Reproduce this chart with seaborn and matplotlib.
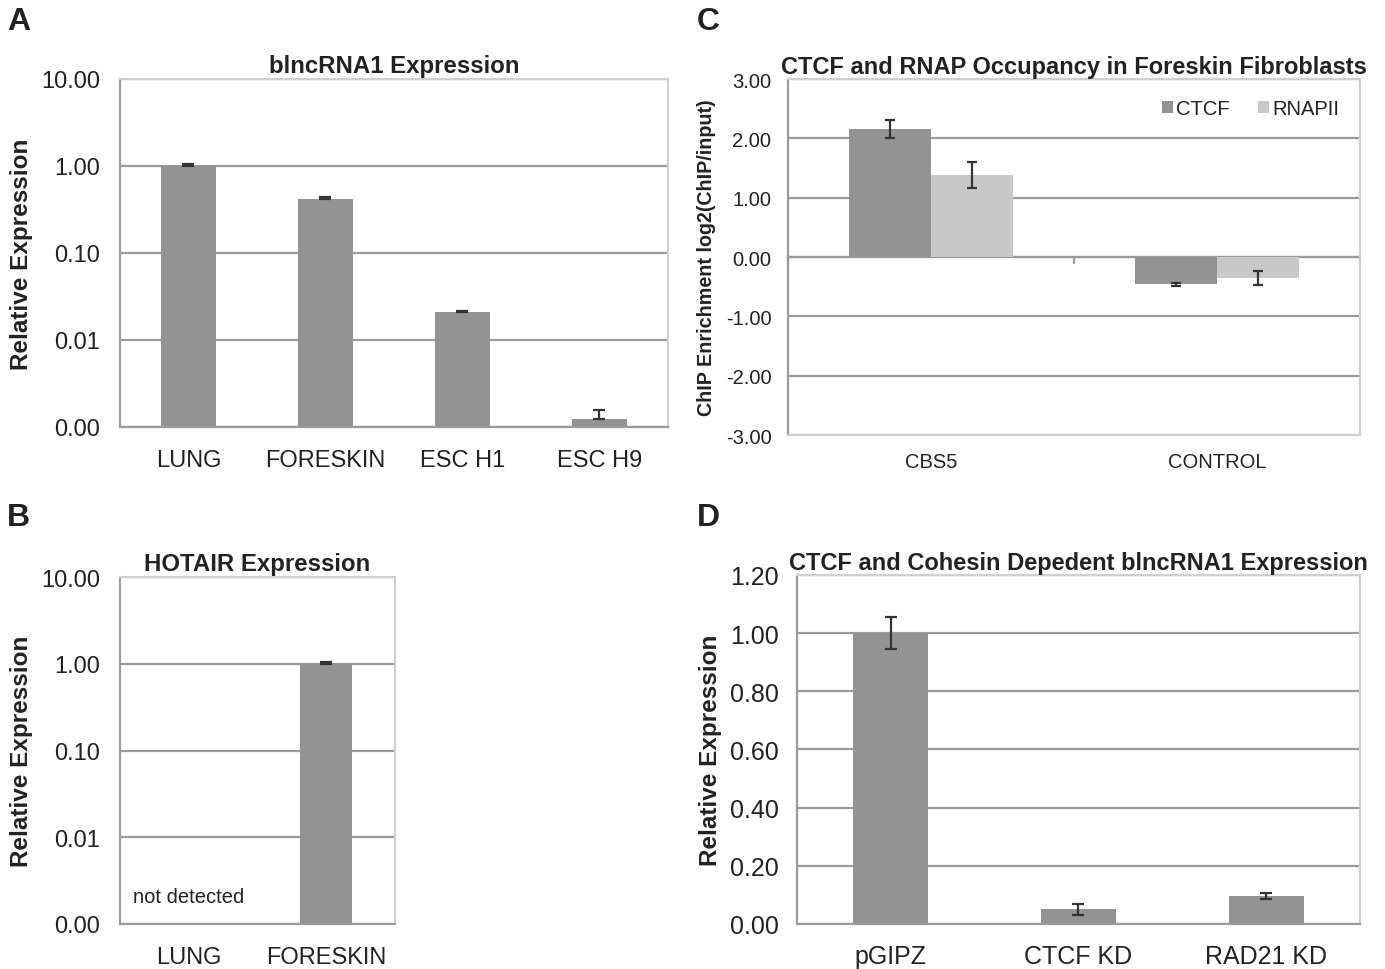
import numpy as np
import pandas as pd
import matplotlib
matplotlib.use('Agg')
import matplotlib.pyplot as plt
import seaborn as sns
from matplotlib.ticker import FixedLocator, FixedFormatter

# ---- data ----
a_tissues = ['LUNG', 'FORESKIN', 'ESC H1', 'ESC H9']
a_expr = [1.0, 0.42, 0.021, 0.00125]
a_err = [0.04, 0.015, 0.0008, 0.0003]

b_tissues = ['LUNG', 'FORESKIN']
b_expr = [np.nan, 1.0]
b_err = [np.nan, 0.04]

c_sites = ['CBS5', 'CONTROL']
c_antibodies = ['CTCF', 'RNAPII']
c_ctcf = [2.16, -0.46]
c_ctcf_err = [0.15, 0.03]
c_rnap = [1.38, -0.36]
c_rnap_err = [0.22, 0.12]

d_conds = ['pGIPZ', 'CTCF KD', 'RAD21 KD']
d_expr = [1.0, 0.05, 0.095]
d_err = [0.055, 0.018, 0.01]

log_ticks = [0.001, 0.01, 0.1, 1, 10]
log_labels = ['0.00', '0.01', '0.10', '1.00', '10.00']
c_ticks = [-3, -2, -1, 0, 1, 2, 3]
d_ticks = [0, 0.2, 0.4, 0.6, 0.8, 1.0, 1.2]

BAR = '#939393'
BAR_LIGHT = '#c8c8c8'
GRID = '#9b9b9b'
FRAME = '#cfcfcf'
ERR = '#333333'
FONT = ['Liberation Sans', 'DejaVu Sans']

sns.set_style('white')
plt.rcParams['font.family'] = FONT
plt.rcParams['text.color'] = '#222222'
plt.rcParams['axes.labelcolor'] = '#222222'
plt.rcParams['xtick.color'] = '#222222'
plt.rcParams['ytick.color'] = '#222222'


def excel_axes(ax, n, tick_size, ypad, xpad):
    ax.set_facecolor('white')
    for s in ['top', 'right']:
        ax.spines[s].set_color(FRAME)
        ax.spines[s].set_linewidth(1.5)
    for s in ['left', 'bottom']:
        ax.spines[s].set_color(GRID)
        ax.spines[s].set_linewidth(1.6)
    ax.yaxis.grid(True, color=GRID, linewidth=1.6)
    ax.xaxis.grid(False)
    ax.set_axisbelow(True)
    ax.set_xlim(-0.5, n - 0.5)
    ax.set_xticks(np.arange(-0.5, n, 1.0), minor=True)
    ax.tick_params(axis='x', which='major', length=0, pad=xpad)
    ax.tick_params(axis='x', which='minor', length=5, width=1.6, color=GRID, direction='out')
    ax.tick_params(axis='y', which='major', length=5, width=1.6, color=GRID, direction='out', pad=ypad)
    ax.tick_params(axis='y', which='minor', length=0)
    for lab in ax.get_xticklabels() + ax.get_yticklabels():
        lab.set_fontsize(tick_size)
    ax.set_xlabel('')


def add_errors(ax, centers, values, errors, cap, upper_only=False):
    yerr = [np.zeros(len(errors)), errors] if upper_only else errors
    ax.errorbar(centers, values, yerr=yerr, fmt='none', ecolor=ERR,
                elinewidth=1.6, capsize=cap, capthick=1.6, zorder=5)


def bar_centers(ax):
    centers = []
    for cont in ax.containers:
        for p in cont.patches:
            centers.append(p.get_x() + p.get_width() / 2)
    return centers


fig = plt.figure(figsize=(13.85, 9.70), dpi=100)
fig.patch.set_facecolor('white')

# ---- A ----
axA = fig.add_axes([0.0866, 0.5588, 0.3957, 0.3588])
dfA = pd.DataFrame({'tissue': a_tissues, 'expr': a_expr})
sns.barplot(data=dfA, x='tissue', y='expr', color=BAR, saturation=1, width=0.4,
            errorbar=None, linewidth=0, ax=axA)
axA.set_yscale('log')
axA.set_ylim(0.001, 10)
axA.yaxis.set_major_locator(FixedLocator(log_ticks))
axA.yaxis.set_major_formatter(FixedFormatter(log_labels))
axA.yaxis.set_minor_locator(FixedLocator([]))
add_errors(axA, np.arange(len(a_tissues)), a_expr, a_err, 4.5, upper_only=True)
excel_axes(axA, len(a_tissues), 17, 9, 16)
axA.set_ylabel('Relative Expression', fontsize=17.5, fontweight='bold', labelpad=6)
axA.set_title('blncRNA1 Expression', fontsize=17.3, fontweight='bold', pad=5)

# ---- B ----
axB = fig.add_axes([0.0866, 0.0464, 0.1986, 0.3577])
dfB = pd.DataFrame({'tissue': b_tissues, 'expr': b_expr})
sns.barplot(data=dfB, x='tissue', y='expr', color=BAR, saturation=1, width=0.38,
            errorbar=None, linewidth=0, ax=axB)
axB.set_yscale('log')
axB.set_ylim(0.001, 10)
axB.yaxis.set_major_locator(FixedLocator(log_ticks))
axB.yaxis.set_major_formatter(FixedFormatter(log_labels))
axB.yaxis.set_minor_locator(FixedLocator([]))
add_errors(axB, np.arange(len(b_tissues)), b_expr, b_err, 4.5, upper_only=True)
excel_axes(axB, len(b_tissues), 17, 9, 16)
axB.text(0, 0.0021, 'not detected', ha='center', va='center', fontsize=14.5)
axB.set_ylabel('Relative Expression', fontsize=17.5, fontweight='bold', labelpad=6)
axB.set_title('HOTAIR Expression', fontsize=17.3, fontweight='bold', pad=5)

# ---- C ----
axC = fig.add_axes([0.5690, 0.5505, 0.4130, 0.3670])
dfC = pd.DataFrame({
    'site': c_sites * 2,
    'ab': [c_antibodies[0]] * 2 + [c_antibodies[1]] * 2,
    'val': c_ctcf + c_rnap,
})
sns.barplot(data=dfC, x='site', y='val', hue='ab', palette=[BAR, BAR_LIGHT],
            saturation=1, width=0.573, errorbar=None, linewidth=0, ax=axC)
axC.set_ylim(-3, 3)
axC.set_yticks(c_ticks)
axC.set_yticklabels(['%.2f' % t for t in c_ticks])
add_errors(axC, bar_centers(axC), c_ctcf + c_rnap, c_ctcf_err + c_rnap_err, 3.5)
excel_axes(axC, len(c_sites), 14.5, 7, 12)
axC.set_xticks([], minor=True)
axC.spines['bottom'].set_color(FRAME)
# zero axis with category boundary ticks
zero = axC.secondary_xaxis(0.5)
zero.set_alignment('bottom')
zero.set_xticks([-0.5, 0.5, 1.5])
zero.set_xticklabels(['', '', ''])
zero.tick_params(axis='x', length=5, width=1.6, color=GRID, direction='out')
zero.spines['bottom'].set_color(GRID)
zero.spines['bottom'].set_linewidth(1.6)
h, l = axC.get_legend_handles_labels()
axC.legend(h, l, loc='upper right', bbox_to_anchor=(0.995, 0.995), ncol=2, frameon=False,
           handlelength=0.55, handleheight=0.55, handletextpad=0.15, columnspacing=1.4,
           fontsize=14.5)
axC.set_ylabel('ChIP Enrichment log2(ChIP/input)', fontsize=14.2, fontweight='bold', labelpad=7)
axC.set_title('CTCF and RNAP Occupancy in Foreskin Fibroblasts', fontsize=17,
              fontweight='bold', pad=4)

# ---- D ----
axD = fig.add_axes([0.5755, 0.0464, 0.4064, 0.3598])
dfD = pd.DataFrame({'cond': d_conds, 'expr': d_expr})
sns.barplot(data=dfD, x='cond', y='expr', color=BAR, saturation=1, width=0.4,
            errorbar=None, linewidth=0, ax=axD)
axD.set_ylim(0, 1.2)
axD.set_yticks(d_ticks)
axD.set_yticklabels(['%.2f' % t for t in d_ticks])
add_errors(axD, np.arange(len(d_conds)), d_expr, d_err, 4.5)
excel_axes(axD, len(d_conds), 18, 8, 14.5)
axD.set_ylabel('Relative Expression', fontsize=17.5, fontweight='bold', labelpad=6)
axD.set_title('CTCF and Cohesin Depedent blncRNA1 Expression', fontsize=17,
              fontweight='bold', pad=4)

for letter, x, y in [('A', 0.005, 0.993), ('B', 0.005, 0.481), ('C', 0.503, 0.993), ('D', 0.503, 0.481)]:
    fig.text(x, y, letter, fontsize=23, fontweight='bold', ha='left', va='top')

fig.savefig('out.png', dpi=100, facecolor='white')
